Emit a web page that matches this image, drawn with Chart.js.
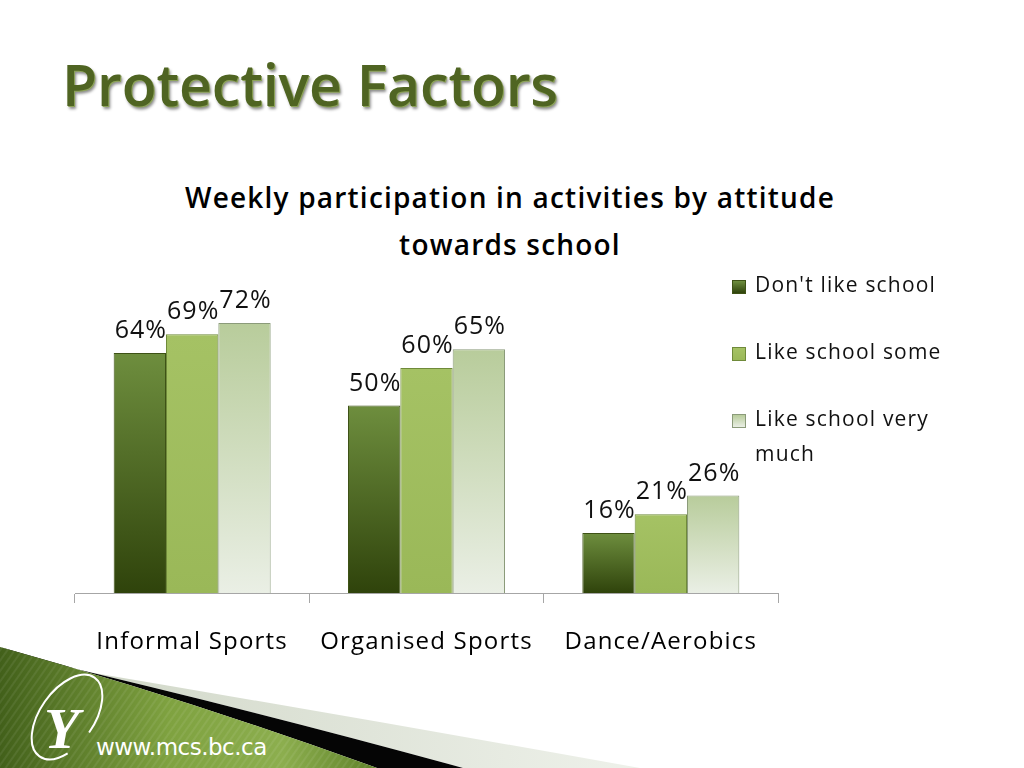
<!DOCTYPE html>
<html>
<head>
<meta charset="utf-8">
<script src="https://cdn.jsdelivr.net/npm/chart.js@4.4.1/dist/chart.umd.min.js"></script>
<style>
  html, body { margin: 0; padding: 0; background: #fff; }
  #slide { position: relative; width: 1024px; height: 768px; overflow: hidden; font-family: "Open Sans", Lato, sans-serif; }
  #deco { position: absolute; left: 0; top: 0; }
  #title { position: absolute; left: 62px; top: 45px; font-size: 57px; font-weight: 600; color: #4f6422;
           text-shadow: 1px 1px 0 #8da35a, 2px 3px 3px rgba(0,0,0,0.45); white-space: nowrap; }
  #chartTitle { position: absolute; left: 110px; width: 800px; top: 174px; text-align: center;
                font-size: 28px; font-weight: 600; line-height: 47px; color: #000; letter-spacing: 1.2px; }
  #c { position: absolute; left: 0; top: 0; }
  #legend { position: absolute; left: 732px; top: 267px; }
  .item { position: absolute; left: 0; display: flex; align-items: flex-start; }
  .sw { width: 14px; height: 14px; margin-top: 13px; margin-right: 9px; box-sizing: border-box; }
  .txt { font-size: 21px; line-height: 35px; color: #111; width: 215px; letter-spacing: 1.2px; }
  #url { position: absolute; left: 96px; top: 734px; font-size: 23px; color: #fff; font-family: "DejaVu Sans", sans-serif; letter-spacing: -0.5px; }
</style>
</head>
<body>
<div id="slide">
  <svg id="deco" width="1024" height="768">
    <defs>
      <linearGradient id="gGreen" x1="0" y1="0" x2="1" y2="0">
        <stop offset="0" stop-color="#42601a"/>
        <stop offset="0.45" stop-color="#7fa240"/>
        <stop offset="0.75" stop-color="#8cae4e"/>
        <stop offset="1" stop-color="#5f8229"/>
      </linearGradient>
      <linearGradient id="gGray" x1="0" y1="0" x2="1" y2="0">
        <stop offset="0" stop-color="#cfd6c6"/>
        <stop offset="1" stop-color="#eef1ea"/>
      </linearGradient>
      <pattern id="stripes" width="6" height="6" patternUnits="userSpaceOnUse" patternTransform="rotate(35)">
        <rect width="2" height="6" fill="rgba(255,255,255,0.07)"/>
      </pattern>
    </defs>
    <path d="M88,672 Q360,718 640,768 L463,768 Q260,712 38,660 Z" fill="url(#gGray)"/>
    <path d="M38,660 Q260,712 463,768 L377,768 Q190,700 0,647 Z" fill="#050505"/>
    <path d="M0,647 Q190,700 377,768 L0,768 Z" fill="url(#gGreen)"/>
    <path d="M0,647 Q190,700 377,768 L0,768 Z" fill="url(#stripes)"/>
    <ellipse cx="67" cy="717" rx="27" ry="48" transform="rotate(35 67 717)" fill="none" stroke="#fff" stroke-width="2"
             stroke-dasharray="210 60" stroke-dashoffset="-30"/>
    <text x="44" y="748" font-family="Liberation Serif, serif" font-style="italic" font-weight="bold" font-size="58" fill="#fff">Y</text>
  </svg>
  <div id="url">www.mcs.bc.ca</div>
  <div id="title">Protective Factors</div>
  <div id="chartTitle">Weekly participation in activities by attitude<br>towards school</div>
  <canvas id="c" width="1024" height="768" style="width:1024px;height:768px"></canvas>
  <div id="legend"></div>
</div>
<script>
const categories = ["Informal Sports", "Organised Sports", "Dance/Aerobics"];
const seriesNames = ["Don't like school", "Like school some", "Like school very much"];
const dontLike = [64, 50, 16];
const likeSome = [69, 60, 21];
const likeVeryMuch = [72, 65, 26];

// top colour, bottom colour, border
const fills = [
  ["#6e8e3e", "#2f430b", "#3e5216"],
  ["#a5c264", "#9ab858", "#6f8a3a"],
  ["#b8cc9b", "#eaefe5", "#8b9b7a"]
];

function barFill(top, bottom) {
  return (ctx) => {
    const chart = ctx.chart;
    if (!chart.chartArea || ctx.type !== "data" || !chart.scales.y) return bottom;
    const yTop = chart.scales.y.getPixelForValue(ctx.raw);
    const yBase = chart.scales.y.getPixelForValue(0);
    const g = chart.ctx.createLinearGradient(0, yTop, 0, yBase);
    g.addColorStop(0, top);
    g.addColorStop(1, bottom);
    return g;
  };
}

// the slide's font is widely spaced
const spacing = {
  id: "spacing",
  beforeDraw(chart) { chart.ctx.letterSpacing = "1.2px"; }
};

const valueLabels = {
  id: "valueLabels",
  afterDatasetsDraw(chart) {
    const c = chart.ctx;
    c.save();
    c.font = "25px 'Open Sans'";
    c.letterSpacing = "1px";
    c.fillStyle = "#111";
    c.textAlign = "center";
    c.textBaseline = "alphabetic";
    chart.data.datasets.forEach((ds, i) => {
      chart.getDatasetMeta(i).data.forEach((bar, j) => {
        c.fillText(ds.data[j] + "%", bar.x + 1, bar.y - 15);
      });
    });
    c.restore();
  }
};

const seriesData = [dontLike, likeSome, likeVeryMuch];

const chart = new Chart(document.getElementById("c"), {
  type: "bar",
  data: {
    labels: categories,
    datasets: seriesData.map((d, i) => ({
      label: seriesNames[i],
      data: d,
      backgroundColor: barFill(fills[i][0], fills[i][1]),
      borderColor: fills[i][2],
      borderWidth: 1,
      categoryPercentage: 0.67,
      barPercentage: 1.0
    }))
  },
  options: {
    responsive: false,
    devicePixelRatio: 1,
    animation: false,
    layout: { padding: { left: 75, right: 246, top: 293, bottom: 0 } },
    plugins: { legend: { display: false }, title: { display: false }, tooltip: { enabled: false } },
    scales: {
      y: { display: false, min: 0, max: 80 },
      x: {
        grid: { display: true, drawOnChartArea: false, tickLength: 10, color: "#a6a6a6" },
        border: { color: "#a6a6a6" },
        ticks: { color: "#000", font: { family: "'Open Sans'", size: 24 }, padding: 25 },
        afterFit: (s) => { s.height = 175; }
      }
    }
  },
  plugins: [spacing, valueLabels]
});

// legend from the chart's datasets
const legend = document.getElementById("legend");
chart.data.datasets.forEach((ds, i) => {
  const item = document.createElement("div");
  item.className = "item";
  item.style.top = (i * 67) + "px";
  const sw = document.createElement("div");
  sw.className = "sw";
  sw.style.background = "linear-gradient(" + fills[i][0] + "," + fills[i][1] + ")";
  sw.style.border = "1px solid " + fills[i][2];
  const t = document.createElement("div");
  t.className = "txt";
  t.textContent = ds.label;
  item.appendChild(sw);
  item.appendChild(t);
  legend.appendChild(item);
});
</script>
</body>
</html>
